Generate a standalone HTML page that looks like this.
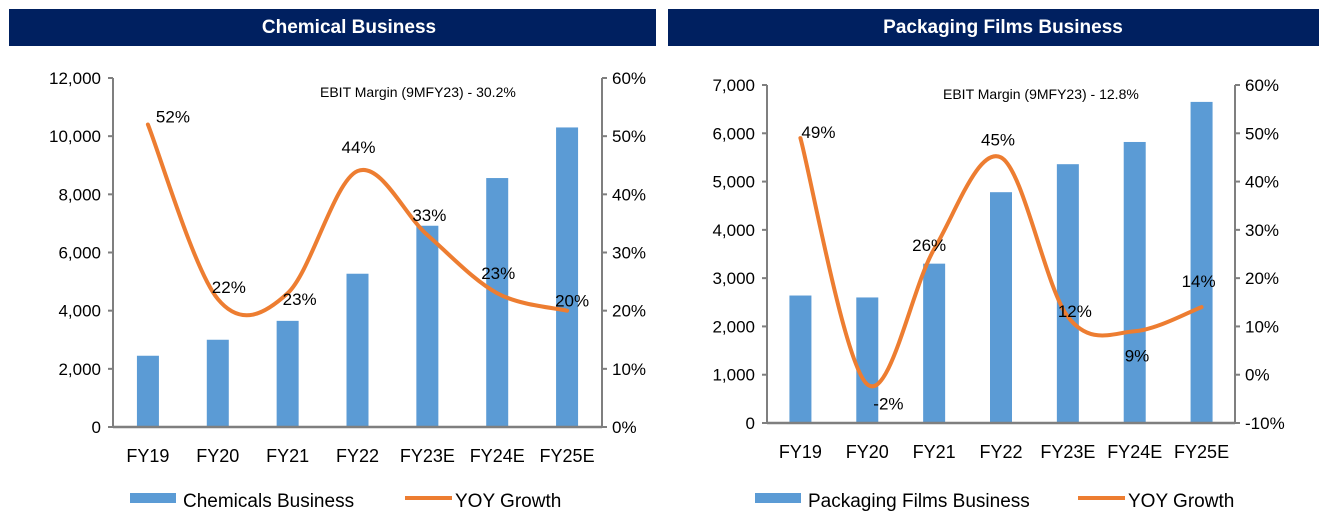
<!DOCTYPE html>
<html><head><meta charset="utf-8">
<style>
html,body{margin:0;padding:0;background:#fff;}
body{width:1334px;height:523px;overflow:hidden;font-family:"Liberation Sans",Arial,sans-serif;}
svg text{font-family:"Liberation Sans",Arial,sans-serif;}
</style></head>
<body>
<svg id="c" width="1334" height="523" viewBox="0 0 1334 523" xmlns="http://www.w3.org/2000/svg">
<rect x="9" y="9" width="647" height="37" fill="#002060"/>
<text x="349" y="33" fill="#fff" font-size="19" font-weight="bold" text-anchor="middle">Chemical Business</text>
<rect x="668" y="9" width="651" height="37" fill="#002060"/>
<text x="1003" y="33" fill="#fff" font-size="19" font-weight="bold" text-anchor="middle">Packaging Films Business</text>
<text x="320" y="97" font-size="14">EBIT Margin (9MFY23) - 30.2%</text>
<text x="943" y="99" font-size="14">EBIT Margin (9MFY23) - 12.8%</text>
</svg>
<script>
const categories = ["FY19","FY20","FY21","FY22","FY23E","FY24E","FY25E"];
const chemValues = [2450,3000,3650,5270,6920,8560,10300];
const chemGrowth = [52,22,23,44,33,23,20];
const chemLeftTicks = [0,2000,4000,6000,8000,10000,12000];
const chemRightTicks = [0,10,20,30,40,50,60];
const packValues = [2640,2600,3300,4780,5360,5820,6650];
const packGrowth = [49,-2,26,45,12,9,14];
const packLeftTicks = [0,1000,2000,3000,4000,5000,6000,7000];
const packRightTicks = [-10,0,10,20,30,40,50,60];

const svg = document.getElementById('c');
const NS = 'http://www.w3.org/2000/svg';
function mk(tag, attrs, parent){const e=document.createElementNS(NS,tag);for(const k in attrs)e.setAttribute(k,attrs[k]);(parent||svg).appendChild(e);return e;}
function fmt(v){return v.toLocaleString('en-US');}

function drawChart(o){
  const g = mk('g',{});
  
  
  const lmin=o.lTicks[0], lmax=o.lTicks[o.lTicks.length-1];
  const rmin=o.rTicks[0], rmax=o.rTicks[o.rTicks.length-1];
  const yL = v => o.y0 - (v-lmin)/(lmax-lmin)*(o.y0-o.y1);
  const yR = v => o.y0 - (v-rmin)/(rmax-rmin)*(o.y0-o.y1);
  const step=(o.x1-o.x0)/categories.length;
  const xC = i => o.x0 + step*(i+0.5);
  const la = mk('line',{x1:o.x0,y1:o.y1,x2:o.x0,y2:o.y0,stroke:'#7f7f7f','stroke-width':2},g);
   
  const ra = mk('line',{x1:o.x1,y1:o.y1,x2:o.x1,y2:o.y0,stroke:'#7f7f7f','stroke-width':2},g);
   
  o.lTicks.forEach(v=>{
    mk('line',{x1:o.x0-5,x2:o.x0,y1:yL(v),y2:yL(v),stroke:'#7f7f7f','stroke-width':2},g);
    const t=mk('text',{x:o.x0-12,y:yL(v)+6,'font-size':17,'text-anchor':'end',fill:'#000'},g);
    t.textContent=fmt(v);
     
  });
  o.rTicks.forEach(v=>{
    mk('line',{x1:o.x1,x2:o.x1+5,y1:yR(v),y2:yR(v),stroke:'#7f7f7f','stroke-width':2},g);
    const t=mk('text',{x:o.x1+10,y:yR(v)+6,'font-size':17,fill:'#000'},g);
    t.textContent=v+'%';
     
  });
  o.values.forEach((v,i)=>{
    const b=mk('rect',{x:xC(i)-11,y:yL(v),width:22,height:o.y0-yL(v),fill:'#5b9bd5'},g);
     
  });
  mk('line',{x1:o.x0,y1:o.y0,x2:o.x1,y2:o.y0,stroke:'#7f7f7f','stroke-width':2.5},g);
  categories.forEach((c,i)=>{
    const t=mk('text',{x:xC(i),y:o.y0+35,'font-size':18,'text-anchor':'middle',fill:'#000'},g);
    t.textContent=c;
     
  });
  const pts=o.growth.map((v,i)=>[xC(i),yR(v)]);
  let d='M'+pts[0][0]+','+pts[0][1];
  for(let i=0;i<pts.length-1;i++){
    const p0=pts[Math.max(i-1,0)],p1=pts[i],p2=pts[i+1],p3=pts[Math.min(i+2,pts.length-1)];
    const t=1/6;
    d+=' C'+(p1[0]+(p2[0]-p0[0])*t)+','+(p1[1]+(p2[1]-p0[1])*t)+' '+(p2[0]-(p3[0]-p1[0])*t)+','+(p2[1]-(p3[1]-p1[1])*t)+' '+p2[0]+','+p2[1];
  }
  const ln=mk('path',{d:d,fill:'none',stroke:'#ed7d31','stroke-width':4,'stroke-linecap':'round'},g);
   
  o.growth.forEach((v,i)=>{
    const off=o.labelOff[i];
    const t=mk('text',{x:xC(i)+off[0],y:yR(v)+off[1],'font-size':17,fill:'#000'},g);
    t.textContent=v+'%';
     
  });
  const sw=mk('rect',{x:o.legX,y:493,width:46,height:10,fill:'#5b9bd5'},g);
   
  const lt=mk('text',{x:o.legX+53,y:507,'font-size':19,fill:'#000'},g);
  lt.textContent=o.barLabel;
   
  const ll=mk('line',{x1:o.legX2,x2:o.legX2+47,y1:498,y2:498,stroke:'#ed7d31','stroke-width':4},g);
   
  const lt2=mk('text',{x:o.legX2+50,y:507,'font-size':19,fill:'#000'},g);
  lt2.textContent='YOY Growth';
   
}

drawChart({name:'chemical-chart',x0:113,x1:602,y0:427,y1:78,values:chemValues,growth:chemGrowth,
  lTicks:chemLeftTicks,rTicks:chemRightTicks,barLabel:'Chemicals Business',legX:130,legX2:405,
  labelOff:[[8,-2],[-6,-6],[-5,12],[-16,-18],[-15,-14],[-16,-14],[-12,-4]]});
drawChart({name:'packaging-chart',x0:767,x1:1235,y0:423,y1:85,values:packValues,growth:packGrowth,
  lTicks:packLeftTicks,rTicks:packRightTicks,barLabel:'Packaging Films Business',legX:755,legX2:1078,
  labelOff:[[1,0],[6,25],[-22,2],[-20,-12],[-10,0],[-10,30],[-20,-20]]});
</script>
</body></html>
